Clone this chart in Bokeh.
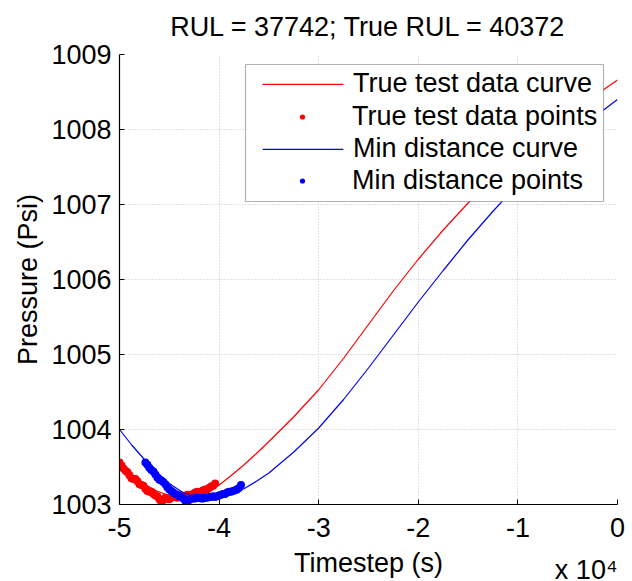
from bokeh.plotting import figure
from bokeh.models import (Range1d, FixedTicker, CustomJSTickFormatter, Title,
                          Legend, LegendItem, BoxAnnotation)
from bokeh.embed import file_html
from bokeh.resources import INLINE

FONT = "Liberation Sans"
FS = "27px"
X_UNIT = 1e4  # x values below are read in units of 10^4 s

# ---- fitted curves (x in 10^4 s, pressure in Psi) ----
curve_x = [-5.0, -4.875, -4.75, -4.625, -4.5, -4.375, -4.25, -4.125, -4.0,
           -3.875, -3.75, -3.625, -3.5, -3.25, -3.0, -2.75, -2.5, -2.25, -2.0,
           -1.75, -1.5, -1.25, -1.0, -0.75, -0.5, -0.25, 0.0]
true_curve_y = [1003.52, 1003.38, 1003.27, 1003.18, 1003.12, 1003.09, 1003.10,
                1003.16, 1003.26, 1003.39, 1003.53, 1003.68, 1003.84, 1004.17,
                1004.53, 1004.95, 1005.40, 1005.85, 1006.27, 1006.66, 1007.02,
                1007.35, 1007.65, 1007.93, 1008.19, 1008.43, 1008.66]
min_curve_y = [1004.00, 1003.79, 1003.60, 1003.43, 1003.28, 1003.17, 1003.10,
               1003.07, 1003.09, 1003.14, 1003.21, 1003.31, 1003.42, 1003.70,
               1004.02, 1004.40, 1004.82, 1005.26, 1005.70, 1006.12, 1006.53,
               1006.91, 1007.27, 1007.59, 1007.88, 1008.15, 1008.40]

# ---- measured points ----
true_pts_x = [-5.00, -4.98, -4.96, -4.94, -4.92, -4.90, -4.88, -4.86, -4.84, -4.82,
              -4.80, -4.78, -4.76, -4.74, -4.72, -4.70, -4.68, -4.66, -4.64, -4.62,
              -4.60, -4.58, -4.56, -4.54, -4.52, -4.50, -4.48, -4.46, -4.44, -4.42,
              -4.40, -4.38, -4.36, -4.34, -4.32, -4.30, -4.28, -4.26, -4.24, -4.22,
              -4.20, -4.18, -4.16, -4.14, -4.12, -4.10, -4.08, -4.06, -4.04]
true_pts_y = [1003.56, 1003.52, 1003.48, 1003.45, 1003.43, 1003.39, 1003.35, 1003.34, 1003.34, 1003.31,
              1003.27, 1003.26, 1003.25, 1003.21, 1003.18, 1003.17, 1003.17, 1003.14, 1003.12, 1003.11,
              1003.07, 1003.03, 1003.06, 1003.09, 1003.08, 1003.07, 1003.09, 1003.10, 1003.10, 1003.09,
              1003.11, 1003.12, 1003.11, 1003.11, 1003.13, 1003.13, 1003.12, 1003.14, 1003.16, 1003.17,
              1003.16, 1003.17, 1003.19, 1003.20, 1003.20, 1003.22, 1003.24, 1003.25, 1003.28]
min_pts_x = [-4.74, -4.72, -4.70, -4.68, -4.66, -4.64, -4.62, -4.60, -4.58, -4.56,
             -4.54, -4.52, -4.50, -4.48, -4.46, -4.44, -4.42, -4.40, -4.38, -4.36,
             -4.34, -4.32, -4.30, -4.28, -4.26, -4.24, -4.22, -4.20, -4.18, -4.16,
             -4.14, -4.12, -4.10, -4.08, -4.06, -4.04, -4.02, -4.00, -3.98, -3.96,
             -3.94, -3.92, -3.90, -3.88, -3.86, -3.84, -3.82, -3.80, -3.78]
min_pts_y = [1003.56, 1003.53, 1003.49, 1003.46, 1003.44, 1003.40, 1003.36, 1003.33, 1003.32, 1003.30,
             1003.27, 1003.23, 1003.20, 1003.18, 1003.16, 1003.14, 1003.13, 1003.11, 1003.10, 1003.08,
             1003.05, 1003.03, 1003.06, 1003.08, 1003.08, 1003.08, 1003.09, 1003.09, 1003.08, 1003.08,
             1003.09, 1003.09, 1003.10, 1003.10, 1003.11, 1003.10, 1003.11, 1003.12, 1003.13, 1003.14,
             1003.14, 1003.16, 1003.17, 1003.17, 1003.18, 1003.19, 1003.20, 1003.22, 1003.26]

x_ticks = [-5, -4, -3, -2, -1, 0]
y_ticks = [1003, 1004, 1005, 1006, 1007, 1008, 1009]
labels = ["True test data curve", "True test data points",
          "Min distance curve", "Min distance points"]
title_text = "RUL = 37742; True RUL = 40372"
exponent_text = "x 10\u2074"

RED = "#ff0000"
BLUE = "#0000ff"

def sec(vals):
    return [v * X_UNIT for v in vals]

p = figure(width=632, height=581, output_backend="svg", toolbar_location=None,
           x_range=Range1d(-5 * X_UNIT, 0), y_range=Range1d(1003, 1009),
           min_border_left=119, min_border_right=15, min_border_top=51,
           min_border_bottom=77, title=title_text)
p.outline_line_color = None
p.background_fill_color = "white"
p.border_fill_color = "white"

p.title.align = "center"
p.title.vertical_align = "top"
p.title.text_font = FONT
p.title.text_font_size = FS
p.title.text_font_style = "normal"
p.title.text_color = "black"
p.title.standoff = 22

p.xaxis.ticker = FixedTicker(ticks=sec(x_ticks))
p.yaxis.ticker = FixedTicker(ticks=y_ticks)
p.xaxis.formatter = CustomJSTickFormatter(code="return String(Math.round(tick/10000));")
for ax in (p.xaxis, p.yaxis):
    ax.axis_line_color = "black"
    ax.axis_line_width = 1.2
    ax.major_tick_in = 5
    ax.major_tick_out = 0
    ax.major_tick_line_color = "black"
    ax.minor_tick_line_color = None
    ax.major_label_text_font = FONT
    ax.major_label_text_font_size = FS
    ax.major_label_text_color = "black"
    ax.axis_label_text_font = FONT
    ax.axis_label_text_font_size = FS
    ax.axis_label_text_font_style = "normal"
    ax.axis_label_text_color = "black"
p.xaxis.axis_label = "Timestep (s)"
p.yaxis.axis_label = "Pressure (Psi)"
p.xaxis.major_label_standoff = 13
p.xaxis.axis_label_standoff = 8
p.yaxis.major_label_standoff = 8
p.yaxis.axis_label_standoff = 5

p.xgrid.ticker = FixedTicker(ticks=sec(x_ticks))
p.ygrid.ticker = FixedTicker(ticks=y_ticks)
for g in (p.xgrid, p.ygrid):
    g.grid_line_color = "#c4c4c4"
    g.grid_line_dash = "1 2"
    g.grid_line_width = 1

p.line(sec(curve_x), true_curve_y, color=RED, line_width=1.2)
r_tp = p.scatter(sec(true_pts_x), true_pts_y, size=8, color=RED, line_width=0)
p.line(sec(curve_x), min_curve_y, color=BLUE, line_width=1.2)
r_mp = p.scatter(sec(min_pts_x), min_pts_y, size=8, color=BLUE, line_width=0)

# legend key proxies for the two curves: zero-area quads at each curve's first point
k_tc = p.quad(left=sec(curve_x[:1]), right=sec(curve_x[:1]),
              top=true_curve_y[:1], bottom=true_curve_y[:1],
              fill_color=RED, line_color=None)
k_mc = p.quad(left=sec(curve_x[:1]), right=sec(curve_x[:1]),
              top=min_curve_y[:1], bottom=min_curve_y[:1],
              fill_color=BLUE, line_color=None)

# legend frame
p.add_layout(BoxAnnotation(left=126, right=484, bottom=303, top=440,
                           left_units="screen", right_units="screen",
                           bottom_units="screen", top_units="screen",
                           fill_color="white", fill_alpha=1.0,
                           line_color="black", line_width=1.2))

def add_row(label, renderer, loc, is_curve):
    lg = Legend(items=[LegendItem(label=label, renderers=[renderer], index=0)],
                location=loc)
    lg.label_text_font = FONT
    lg.label_text_font_size = FS
    lg.label_text_color = "black"
    lg.label_height = 30
    lg.padding = 0
    lg.margin = 0
    lg.spacing = 0
    lg.border_line_color = None
    lg.background_fill_alpha = 0
    if is_curve:
        lg.glyph_width = 101
        lg.glyph_height = 2
        lg.label_standoff = 0
    else:
        lg.glyph_width = 60
        lg.glyph_height = 13
        lg.label_standoff = 20
    p.add_layout(lg, "center")

add_row(labels[0], k_tc, (133, 405), True)
add_row(labels[1], r_tp, (153, 372), False)
add_row(labels[2], k_mc, (133, 340), True)
add_row(labels[3], r_mp, (153, 308), False)

p.add_layout(Title(text=exponent_text, align="right", vertical_align="top",
                   text_font=FONT, text_font_size=FS, text_font_style="normal",
                   text_color="black", standoff=-52), "below")

open("out.html", "w").write(file_html(p, INLINE))
